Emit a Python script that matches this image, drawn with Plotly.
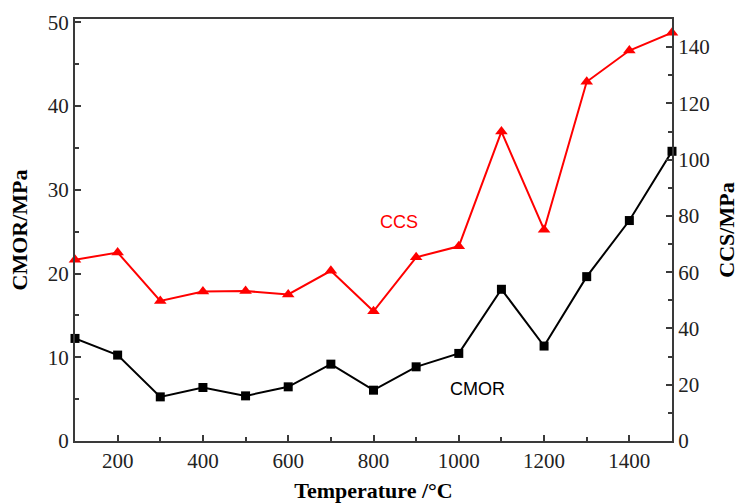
import plotly.graph_objects as go

# Temperature (°C)
temperature = [100, 200, 300, 400, 500, 600, 700, 800, 900, 1000, 1100, 1200, 1300, 1400, 1500]
# Cold modulus of rupture (MPa), left axis
cmor = [12.25, 10.26, 5.27, 6.39, 5.39, 6.47, 9.18, 6.07, 8.86, 10.46, 18.12, 11.34, 19.63, 26.33, 34.6]
# Cold crushing strength (MPa), right axis
ccs = [64.4, 67.0, 49.8, 53.1, 53.3, 52.1, 60.5, 46.1, 65.3, 69.2, 110.0, 75.1, 127.7, 138.8, 145.1]

x_ticks = [200, 400, 600, 800, 1000, 1200, 1400]
left_ticks = [0, 10, 20, 30, 40, 50]
right_ticks = [0, 20, 40, 60, 80, 100, 120, 140]

serif = "Liberation Serif"
sans = "Liberation Sans, Arial, sans-serif"
axis_col = "#3a3a3a"


def tick_font():
    return dict(family=serif, size=21, color="#222222")


def title_font():
    return dict(family=serif, size=22, color="black", weight="bold")


fig = go.Figure()
fig.add_trace(go.Scatter(
    x=temperature, y=cmor, mode="lines+markers", name="CMOR",
    line=dict(color="black", width=2),
    marker=dict(symbol="square", size=9, color="black"),
    yaxis="y", cliponaxis=False,
))
fig.add_trace(go.Scatter(
    x=temperature, y=ccs, mode="lines+markers", name="CCS",
    line=dict(color="#ff0000", width=2),
    marker=dict(symbol="triangle-up", size=11, color="#ff0000"),
    yaxis="y2", cliponaxis=False,
))

# series labels
fig.add_annotation(x=1043, y=18.4, xref="x", yref="y2", text="CMOR", showarrow=False,
                   font=dict(family=sans, size=18, color="black"))
fig.add_annotation(x=860, y=77.9, xref="x", yref="y2", text="CCS", showarrow=False,
                   font=dict(family=sans, size=18, color="#ff0000"))

fig.update_layout(
    width=739, height=503,
    margin=dict(l=75, r=67, t=19, b=62),
    paper_bgcolor="white", plot_bgcolor="white",
    font=dict(family=serif, size=21, color="#222222"),
    showlegend=False,
    xaxis=dict(
        range=[100, 1500], tickvals=x_ticks, ticks="inside", ticklen=6, tickwidth=1.5,
        tickcolor=axis_col, showline=True, linecolor=axis_col, linewidth=2, mirror=True,
        showgrid=False, zeroline=False, tickfont=tick_font(), automargin=False,
        minor=dict(ticks="inside", ticklen=4, dtick=100, tick0=100, tickcolor=axis_col, showgrid=False),
        title=dict(text="Temperature /°C", font=title_font(), standoff=14),
    ),
    yaxis=dict(
        range=[0, 50.4], tickvals=left_ticks, ticks="inside", ticklen=6, tickwidth=1.5,
        tickcolor=axis_col, showline=True, linecolor=axis_col, linewidth=2,
        showgrid=False, zeroline=False, tickfont=tick_font(), automargin=False,
        minor=dict(ticks="inside", ticklen=4, dtick=5, tickcolor=axis_col, showgrid=False),
        title=dict(text="CMOR/MPa", font=title_font(), standoff=14),
    ),
    yaxis2=dict(
        range=[0, 150], tickvals=right_ticks, ticks="inside", ticklen=6, tickwidth=1.5,
        tickcolor=axis_col, showline=True, linecolor=axis_col, linewidth=2,
        overlaying="y", side="right",
        showgrid=False, zeroline=False, tickfont=tick_font(), automargin=False,
        minor=dict(ticks="inside", ticklen=4, dtick=10, tickcolor=axis_col, showgrid=False),
        title=dict(text="CCS/MPa", font=title_font(), standoff=14),
    ),
)

fig.write_html("out.html")
